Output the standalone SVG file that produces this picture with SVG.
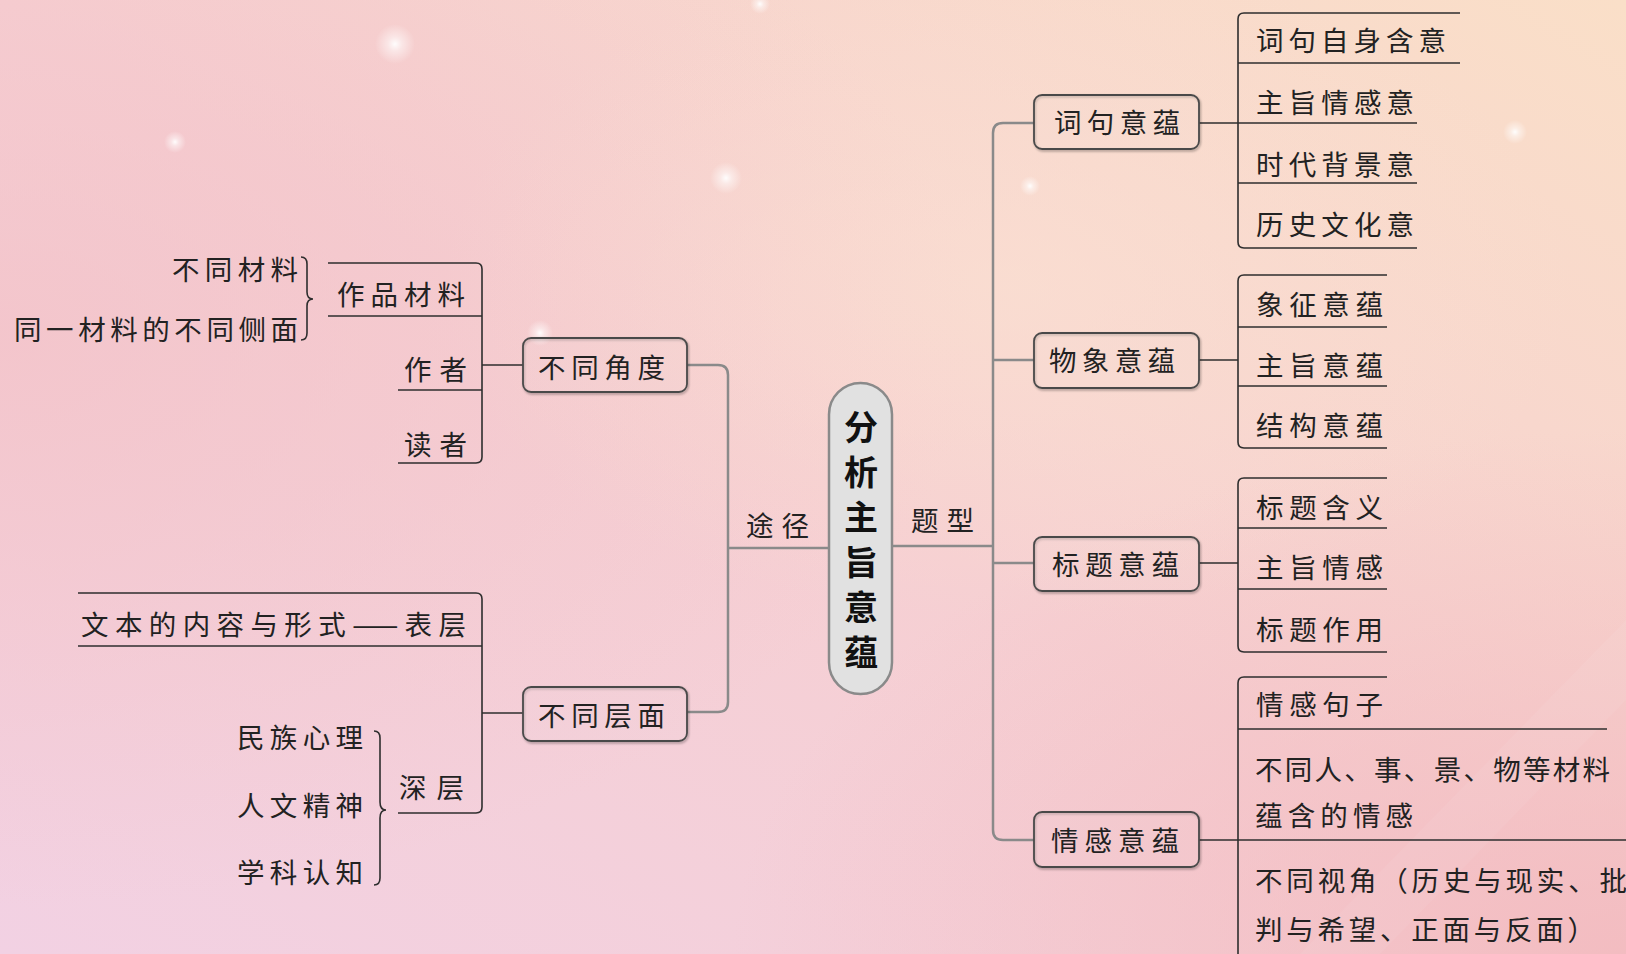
<svg xmlns="http://www.w3.org/2000/svg" width="1626" height="954" viewBox="0 0 1626 954">
<defs>
<linearGradient id="bg" x1="0" y1="1" x2="1" y2="0">
<stop offset="0" stop-color="#f2d1e3"/>
<stop offset="0.5" stop-color="#f6cfd2"/>
<stop offset="1" stop-color="#fadfc8"/>
</linearGradient>
<radialGradient id="tl" cx="0" cy="0.35" r="0.6">
<stop offset="0" stop-color="#f3c3c9" stop-opacity="0.8"/>
<stop offset="1" stop-color="#f3c3c9" stop-opacity="0"/>
</radialGradient>
<radialGradient id="br" cx="1" cy="1" r="0.55">
<stop offset="0" stop-color="#f2b6bb" stop-opacity="0.75"/>
<stop offset="1" stop-color="#f2b6bb" stop-opacity="0"/>
</radialGradient>
<radialGradient id="pc" cx="0.62" cy="0.3" r="0.35">
<stop offset="0" stop-color="#fbe2d2" stop-opacity="0.6"/>
<stop offset="1" stop-color="#fbe2d2" stop-opacity="0"/>
</radialGradient>
<radialGradient id="sp">
<stop offset="0" stop-color="#ffffff" stop-opacity="0.95"/>
<stop offset="0.35" stop-color="#ffffff" stop-opacity="0.5"/>
<stop offset="1" stop-color="#ffffff" stop-opacity="0"/>
</radialGradient>
<filter id="sh" x="-10%" y="-20%" width="120%" height="150%">
<feDropShadow dx="1" dy="1.5" stdDeviation="0.8" flood-color="#000" flood-opacity="0.35"/>
</filter>
</defs>
<style>
text{font-family:"Noto Sans CJK SC","Noto Sans CJK TC",sans-serif;font-size:27.5px;fill:#222;}
.c{font-size:34px;font-weight:bold;fill:#111;text-anchor:middle;}
.box{fill:#ffffff;fill-opacity:0.04;stroke:#4a4a4a;stroke-width:1.8;filter:url(#sh);}
.main{fill:#e1e1e1;stroke:#8a8a8a;stroke-width:2.5;}
.g{fill:none;stroke:#8a8a8a;stroke-width:2.5;}
.d{fill:none;stroke:#2e2e2e;stroke-width:1.6;}
</style>
<rect width="1626" height="954" fill="url(#bg)"/>
<rect width="1626" height="954" fill="url(#tl)"/>
<rect width="1626" height="954" fill="url(#br)"/>
<rect width="1626" height="954" fill="url(#pc)"/>
<path d="M1300,954 L1626,620 L1626,700 L1380,954 Z" fill="#ffffff" fill-opacity="0.06"/>
<g id="sparkles">
<circle cx="395" cy="44" r="20" fill="url(#sp)"/>
<circle cx="726" cy="178" r="16" fill="url(#sp)"/>
<circle cx="175" cy="142" r="11" fill="url(#sp)"/>
<circle cx="540" cy="333" r="13" fill="url(#sp)"/>
<circle cx="1030" cy="186" r="10" fill="url(#sp)"/>
<circle cx="1515" cy="132" r="12" fill="url(#sp)"/>
<circle cx="760" cy="4" r="10" fill="url(#sp)"/>
</g>

<g id="connectors">
<path class="g" d="M687,365 H718 Q728,365 728,375 V702 Q728,712 718,712 H687"/>
<path class="g" d="M728,548 H829"/>
<path class="g" d="M892,546 H993"/>
<path class="g" d="M1034,123 H1003 Q993,123 993,133 V830 Q993,840 1003,840 H1034"/>
<path class="g" d="M993,360 H1034"/>
<path class="g" d="M993,563 H1034"/>
<path class="d" d="M482,365 H523"/>
<path class="d" d="M482,713 H523"/>
<path class="d" d="M1199,123 H1238"/>
<path class="d" d="M1199,360 H1238"/>
<path class="d" d="M1199,563 H1238"/>
<path class="d" d="M1199,840 H1238"/>
</g>

<g id="center">
<rect class="main" x="829" y="383" width="63" height="311" rx="31.5"/>
<text class="c" x="861" y="440">分</text>
<text class="c" x="861" y="485">析</text>
<text class="c" x="861" y="530">主</text>
<text class="c" x="861" y="575">旨</text>
<text class="c" x="861" y="620">意</text>
<text class="c" x="861" y="665">蕴</text>
</g>
<g id="label-tujing"><text x="746" y="536" textLength="63" lengthAdjust="spacing">途径</text></g>
<g id="label-tixing"><text x="911" y="531" textLength="63" lengthAdjust="spacing">题型</text></g>

<g id="n-jiaodu">
<rect class="box" x="523" y="338" width="164" height="54" rx="8"/>
<text x="538" y="378" textLength="127" lengthAdjust="spacing">不同角度</text>
</g>
<g id="n-cengmian">
<rect class="box" x="523" y="687" width="164" height="54" rx="8"/>
<text x="538" y="726" textLength="127" lengthAdjust="spacing">不同层面</text>
</g>

<g id="n-jiaodu-leaves">
<path class="d" d="M328,263 H476 Q482,263 482,269 V457 Q482,463 476,463 H398"/>
<path class="d" d="M328,316 H482"/>
<path class="d" d="M398,390 H482"/>
<text x="337" y="305" textLength="128" lengthAdjust="spacing">作品材料</text>
<text x="404" y="380" textLength="63" lengthAdjust="spacing">作者</text>
<text x="404" y="455" textLength="63" lengthAdjust="spacing">读者</text>
</g>
<g id="n-cailiao-sub">
<path class="d" d="M301,257 Q307,257 307,264 V292 Q307,299 313,299 Q307,299 307,306 V333 Q307,340 301,340"/>
<text x="172" y="280" textLength="126" lengthAdjust="spacing">不同材料</text>
<text x="14" y="340" textLength="284" lengthAdjust="spacing">同一材料的不同侧面</text>
</g>

<g id="n-cengmian-leaves">
<path class="d" d="M78,593 H476 Q482,593 482,599 V807 Q482,813 476,813 H398"/>
<path class="d" d="M78,646 H482"/>
<text x="81" y="635" textLength="385" lengthAdjust="spacing">文本的内容与形式——表层</text>
<text x="399" y="798" textLength="65" lengthAdjust="spacing">深层</text>
</g>
<g id="n-shenceng-sub">
<path class="d" d="M374,731 Q380,731 380,738 V802 Q380,810 386,810 Q380,810 380,818 V878 Q380,885 374,885"/>
<text x="237" y="748" textLength="126" lengthAdjust="spacing">民族心理</text>
<text x="237" y="816" textLength="126" lengthAdjust="spacing">人文精神</text>
<text x="237" y="883" textLength="126" lengthAdjust="spacing">学科认知</text>
</g>

<g id="n-ciju">
<rect class="box" x="1034" y="95" width="165" height="54" rx="8"/>
<text x="1054" y="133" textLength="126" lengthAdjust="spacing">词句意蕴</text>
</g>
<g id="n-ciju-leaves">
<path class="d" d="M1460,13 H1244 Q1238,13 1238,19 V242 Q1238,248 1244,248 H1417"/>
<path class="d" d="M1238,63 H1460"/>
<path class="d" d="M1238,123 H1417"/>
<path class="d" d="M1238,183 H1417"/>
<text x="1256" y="51" textLength="190" lengthAdjust="spacing">词句自身含意</text>
<text x="1256" y="113" textLength="158" lengthAdjust="spacing">主旨情感意</text>
<text x="1256" y="175" textLength="158" lengthAdjust="spacing">时代背景意</text>
<text x="1256" y="235" textLength="158" lengthAdjust="spacing">历史文化意</text>
</g>

<g id="n-wuxiang">
<rect class="box" x="1034" y="333" width="165" height="55" rx="8"/>
<text x="1049" y="371" textLength="126" lengthAdjust="spacing">物象意蕴</text>
</g>
<g id="n-wuxiang-leaves">
<path class="d" d="M1387,275 H1244 Q1238,275 1238,281 V442 Q1238,448 1244,448 H1387"/>
<path class="d" d="M1238,327 H1387"/>
<path class="d" d="M1238,386 H1387"/>
<text x="1256" y="315" textLength="127" lengthAdjust="spacing">象征意蕴</text>
<text x="1256" y="376" textLength="127" lengthAdjust="spacing">主旨意蕴</text>
<text x="1256" y="436" textLength="127" lengthAdjust="spacing">结构意蕴</text>
</g>

<g id="n-biaoti">
<rect class="box" x="1034" y="537" width="165" height="54" rx="8"/>
<text x="1052" y="575" textLength="127" lengthAdjust="spacing">标题意蕴</text>
</g>
<g id="n-biaoti-leaves">
<path class="d" d="M1387,478 H1244 Q1238,478 1238,484 V646 Q1238,652 1244,652 H1387"/>
<path class="d" d="M1238,528 H1387"/>
<path class="d" d="M1238,589 H1387"/>
<text x="1256" y="518" textLength="127" lengthAdjust="spacing">标题含义</text>
<text x="1256" y="578" textLength="127" lengthAdjust="spacing">主旨情感</text>
<text x="1256" y="640" textLength="127" lengthAdjust="spacing">标题作用</text>
</g>

<g id="n-qinggan">
<rect class="box" x="1034" y="812" width="165" height="55" rx="8"/>
<text x="1051" y="851" textLength="128" lengthAdjust="spacing">情感意蕴</text>
</g>
<g id="n-qinggan-leaves">
<path class="d" d="M1387,677 H1244 Q1238,677 1238,683 V960"/>
<path class="d" d="M1238,729 H1607"/>
<path class="d" d="M1238,840 H1626"/>
<text x="1256" y="715" textLength="127" lengthAdjust="spacing">情感句子</text>
<text x="1255" y="780" textLength="355" lengthAdjust="spacing">不同人、事、景、物等材料</text>
<text x="1255" y="826" textLength="158" lengthAdjust="spacing">蕴含的情感</text>
<text x="1255" y="891" textLength="372" lengthAdjust="spacing">不同视角（历史与现实、批</text>
<text x="1255" y="940" textLength="340" lengthAdjust="spacing">判与希望、正面与反面）</text>
</g>
</svg>
